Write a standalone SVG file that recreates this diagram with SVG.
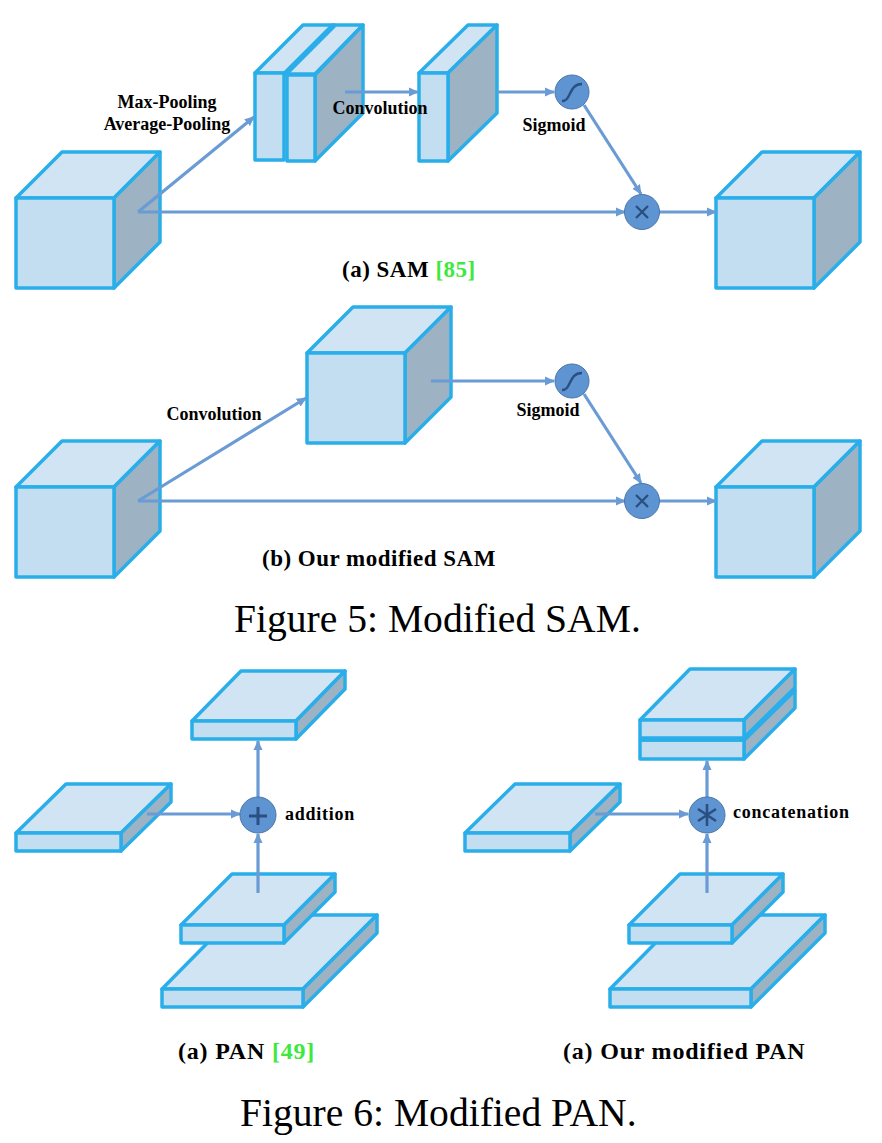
<svg xmlns="http://www.w3.org/2000/svg" width="882" height="1143" viewBox="0 0 882 1143">
<style>
.f{fill:#c3ddf1;stroke:#2aaeea;stroke-width:3.5;stroke-linejoin:round}
.t{fill:#d0e4f4;stroke:#2aaeea;stroke-width:3.5;stroke-linejoin:round}
.s{fill:#9db3c3;stroke:#2aaeea;stroke-width:3.5;stroke-linejoin:round}
.c{fill:none;stroke:#6a9bd4;stroke-width:3.2}
.o{fill:#5f94d2;stroke:#4a76a8;stroke-width:1}
.g{fill:none;stroke:#2a4f80;stroke-width:2.4}
.d{fill:none;stroke:#2aaeea;stroke-width:5.5}
text{font-family:"Liberation Serif","Times New Roman",serif;fill:#000}
.l{font-weight:bold;font-size:18px}
.p{font-weight:bold;font-size:18px;letter-spacing:.75px}
.b{font-weight:bold;font-size:23px;letter-spacing:.5px}
.q{font-weight:bold;font-size:24px;letter-spacing:.8px}
.h{font-size:39.6px}
.r{fill:#3ee83e}
</style>
<defs>
<marker id="a" markerUnits="userSpaceOnUse" markerWidth="10" markerHeight="10" refX="9" refY="5" orient="auto"><path d="M0,0.5L10,5L0,9.5Z" fill="#6a9bd4"/></marker>
</defs>
<g id="sam-input"><polygon class="t" points="16,198 62,152 160,152 114,198"/><polygon class="s" points="114,198 160,152 160,242 114,288"/><rect class="f" x="16" y="198" width="98" height="90"/></g>
<g id="sam-pool-a"><polygon class="t" points="255,73 303,25 334,25 285,73"/><rect class="f" x="255" y="73" width="29" height="87"/></g>
<g id="sam-pool-b"><polygon class="t" points="286,74 334,25 363,25 315,74"/><polygon class="s" points="315,75 363,25 363,113 315,161"/><path class="d" d="M286,73L334,25"/><rect class="f" x="287" y="75" width="28" height="86"/></g>
<g id="sam-conv"><polygon class="t" points="419,73 468,25 497,25 448,73"/><polygon class="s" points="448,73 497,25 497,113 448,161"/><rect class="f" x="419" y="73" width="29" height="88"/></g>
<g id="sam-output"><polygon class="t" points="716,198 762,152 860,152 814,198"/><polygon class="s" points="814,198 860,152 860,242 814,288"/><rect class="f" x="716" y="198" width="98" height="90"/></g>
<g id="msam-input"><polygon class="t" points="16,487 62,441 160,441 114,487"/><polygon class="s" points="114,487 160,441 160,531 114,577"/><rect class="f" x="16" y="487" width="98" height="90"/></g>
<g id="msam-conv"><polygon class="t" points="307,353 353,307 451,307 405,353"/><polygon class="s" points="405,353 451,307 451,397 405,443"/><rect class="f" x="307" y="353" width="98" height="90"/></g>
<g id="msam-output"><polygon class="t" points="716,487 762,441 860,441 814,487"/><polygon class="s" points="814,487 860,441 860,531 814,577"/><rect class="f" x="716" y="487" width="98" height="90"/></g>
<g id="pan-top"><polygon class="t" points="192,721 241,671 345,671 296,721"/><polygon class="s" points="296,721 345,671 345,689 296,739"/><rect class="f" x="192" y="721" width="104" height="18"/></g>
<g id="pan-left"><polygon class="t" points="16,833 66,784 171,784 121,833"/><polygon class="s" points="121,833 171,784 171,802 121,851"/><rect class="f" x="16" y="833" width="105" height="18"/></g>
<g id="pan-large"><polygon class="t" points="162,989 235,915 377,915 303,989"/><polygon class="s" points="303,989 377,915 377,933 303,1007"/><rect class="f" x="162" y="989" width="141" height="18"/></g>
<g id="pan-small"><polygon class="t" points="181,925 232,874 335,874 284,925"/><polygon class="s" points="284,925 335,874 335,892 284,943"/><rect class="f" x="181" y="925" width="103" height="18"/></g>
<g id="mpan-top"><polygon class="t" points="640,720 690,669 795,669 744,720"/><polygon class="s" points="744,720 795,669 795,708 744,759"/><path class="d" d="M744,739L795,689"/><rect class="f" x="640" y="720" width="104" height="19"/><rect class="f" x="640" y="740" width="104" height="19"/><path class="d" d="M640,739L744,739"/></g>
<g id="mpan-left"><polygon class="t" points="465,833 515,784 620,784 570,833"/><polygon class="s" points="570,833 620,784 620,802 570,851"/><rect class="f" x="465" y="833" width="105" height="18"/></g>
<g id="mpan-large"><polygon class="t" points="610,989 683,915 825,915 751,989"/><polygon class="s" points="751,989 825,915 825,933 751,1007"/><rect class="f" x="610" y="989" width="141" height="18"/></g>
<g id="mpan-small"><polygon class="t" points="629,925 680,874 783,874 732,925"/><polygon class="s" points="732,925 783,874 783,892 732,943"/><rect class="f" x="629" y="925" width="103" height="18"/></g>
<g id="connectors">
<path class="c" marker-end="url(#a)" d="M138,212L254,117"/>
<path class="c" marker-end="url(#a)" d="M138,212L625,212"/>
<path class="c" marker-end="url(#a)" d="M345,92L418,92"/>
<path class="c" marker-end="url(#a)" d="M497,92L554,92"/>
<path class="c" marker-end="url(#a)" d="M584,105L641,194"/>
<path class="c" marker-end="url(#a)" d="M659,212L716,212"/>
<path class="c" marker-end="url(#a)" d="M138,501L306,398"/>
<path class="c" marker-end="url(#a)" d="M138,501L625,501"/>
<path class="c" marker-end="url(#a)" d="M431,381L554,381"/>
<path class="c" marker-end="url(#a)" d="M584,394L641,483"/>
<path class="c" marker-end="url(#a)" d="M659,501L716,501"/>
<path class="c" marker-end="url(#a)" d="M147,814L240,814"/>
<path class="c" marker-end="url(#a)" d="M258,893L258,834"/>
<path class="c" marker-end="url(#a)" d="M258,797L258,741"/>
<path class="c" marker-end="url(#a)" d="M595,814L688,814"/>
<path class="c" marker-end="url(#a)" d="M707,893L707,834"/>
<path class="c" marker-end="url(#a)" d="M707,797L707,761"/>
</g>
<g id="sigmoid-a"><circle class="o" cx="572" cy="92" r="17"/><path class="g" d="M562,101C572,101 568,84 582,84"/></g>
<g id="times-a"><circle class="o" cx="642" cy="212" r="17.5"/><path class="g" d="M636,206L648,218M648,206L636,218"/></g>
<g id="sigmoid-b"><circle class="o" cx="572" cy="381" r="17"/><path class="g" d="M562,390C572,390 568,373 582,373"/></g>
<g id="times-b"><circle class="o" cx="642" cy="501" r="17.5"/><path class="g" d="M636,495L648,507M648,495L636,507"/></g>
<g id="plus"><circle class="o" cx="258" cy="815" r="18"/><path class="g" style="stroke-width:3" d="M249,816L267,816M258,807L258,825"/></g>
<g id="star"><circle class="o" cx="707" cy="815" r="18"/><path class="g" style="stroke-width:2.6" d="M707,804L707,826M698,809L716,821M716,809L698,821"/></g>
<g id="labels">
<text class="l" x="167" y="108" text-anchor="middle">Max-Pooling</text>
<text class="l" x="167" y="130" text-anchor="middle">Average-Pooling</text>
<text class="l" x="380" y="114" text-anchor="middle">Convolution</text>
<text class="l" x="554" y="131" text-anchor="middle">Sigmoid</text>
<text class="b" x="342" y="277">(a) SAM <tspan class="r">[85]</tspan></text>
<text class="l" x="214" y="420" text-anchor="middle">Convolution</text>
<text class="l" x="548" y="416" text-anchor="middle">Sigmoid</text>
<text class="b" x="262" y="566">(b) Our modified SAM</text>
<text class="h" x="234" y="632">Figure 5: Modified SAM.</text>
<text class="p" x="285" y="820">addition</text>
<text class="p" x="733" y="818">concatenation</text>
<text class="q" x="178" y="1059">(a) PAN <tspan class="r">[49]</tspan></text>
<text class="q" x="563" y="1059">(a) Our modified PAN</text>
<text class="h" x="240" y="1126">Figure 6: Modified PAN.</text>
</g>
</svg>
